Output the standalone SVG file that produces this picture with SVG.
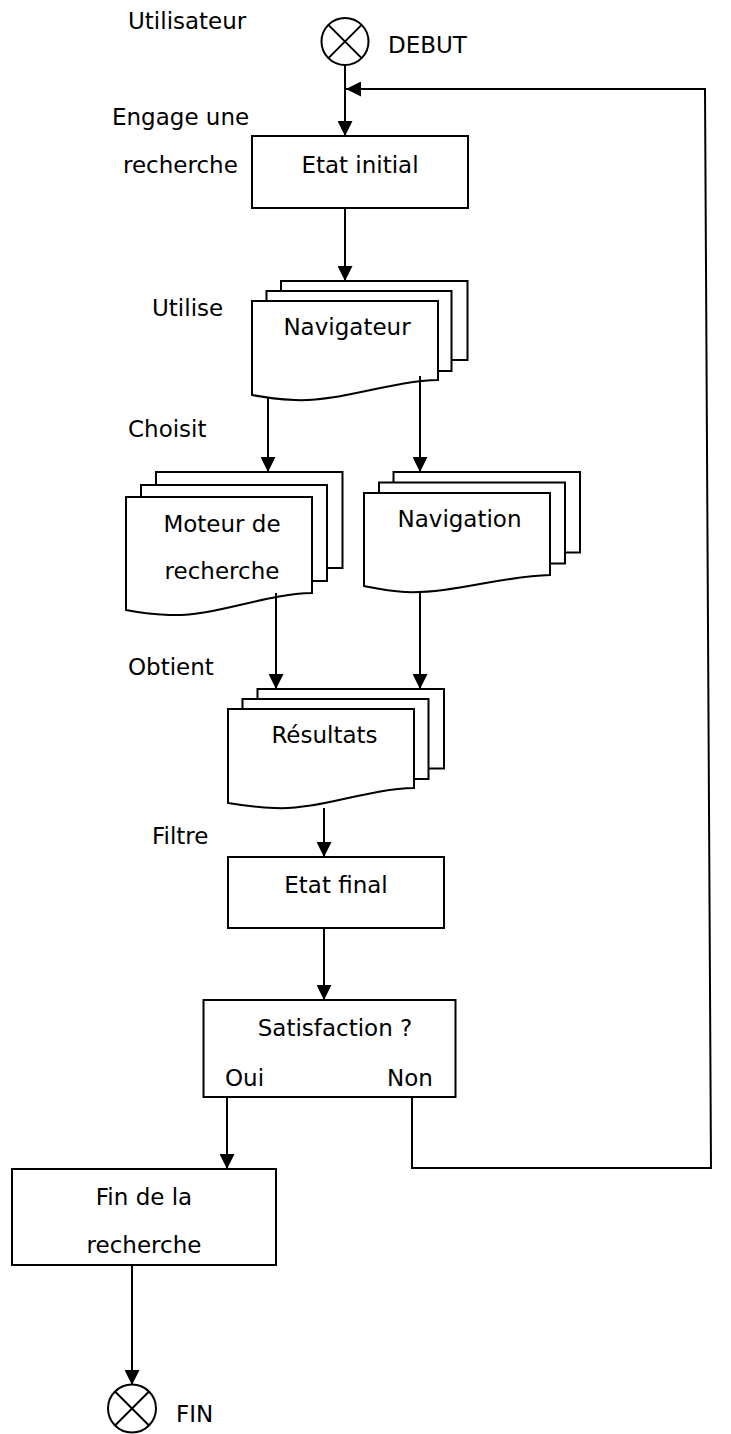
<svg xmlns="http://www.w3.org/2000/svg" width="731" height="1434" viewBox="0 0 731 1434">
<style>
text{font-family:"DejaVu Sans","Noto Sans",sans-serif;font-size:23px;fill:#000}
.c{text-anchor:middle}
.box{fill:#fff;stroke:#000;stroke-width:2}
.doc{fill:#fff;stroke:#000;stroke-width:2;stroke-linejoin:miter}
.ln{fill:none;stroke:#000;stroke-width:2}
</style>
<defs>
<marker id="ah" viewBox="0 0 15 15" refX="15" refY="7.5" markerWidth="15" markerHeight="15" markerUnits="userSpaceOnUse" orient="auto">
<path d="M0,0 L15,7.5 L0,15 Z" fill="#000"/>
</marker>
</defs>
<rect width="731" height="1434" fill="#fff"/>

<g id="labels">
<text x="128" y="29">Utilisateur</text>
<text x="112" y="125">Engage une</text>
<text x="123" y="173">recherche</text>
<text x="152" y="316">Utilise</text>
<text x="128" y="437">Choisit</text>
<text x="128" y="675">Obtient</text>
<text x="152" y="844">Filtre</text>
</g>

<g id="debut">
<circle cx="345" cy="41.5" r="23.5" class="box"/>
<path d="M328.4,24.9 L361.6,58.1 M361.6,24.9 L328.4,58.1" class="ln"/>
<text x="388" y="53">DEBUT</text>
</g>

<g id="etat-initial">
<rect x="252" y="136" width="216" height="72" class="box"/>
<text x="360" y="173" class="c">Etat initial</text>
</g>

<g id="navigateur">
<rect x="281" y="281" width="186.5" height="79" class="doc"/>
<rect x="266.5" y="291" width="185" height="80" class="doc"/>
<path d="M252,301 H438 V380 C390,381 340,402 295,400 C275,399 262,397 252,395 Z" class="doc"/>
<text x="347" y="335" class="c">Navigateur</text>
</g>

<g id="moteur">
<rect x="156" y="472" width="186.5" height="96" class="doc"/>
<rect x="141" y="485" width="186" height="96" class="doc"/>
<path d="M126,497 H312 V593 C264,594 214,617 169,615 C149,614 136,612 126,610 Z" class="doc"/>
<text x="222" y="532" class="c">Moteur de</text>
<text x="222" y="579" class="c">recherche</text>
</g>

<g id="navigation">
<rect x="393.5" y="472" width="186.5" height="80.5" class="doc"/>
<rect x="379" y="482.5" width="186" height="81" class="doc"/>
<path d="M364,493 H550 V575 C502,576 452,594 405,592 C385,591 374,588 364,586 Z" class="doc"/>
<text x="459.5" y="527" class="c">Navigation</text>
</g>

<g id="resultats">
<rect x="257.5" y="689" width="186.5" height="79.5" class="doc"/>
<rect x="242.5" y="699" width="186" height="80" class="doc"/>
<path d="M228,709 H414 V788 C366,789 320,810 275,808 C255,807 240,805 228,803 Z" class="doc"/>
<text x="324.5" y="743" class="c">Résultats</text>
</g>

<g id="etat-final">
<rect x="228" y="857" width="216" height="71" class="box"/>
<text x="336" y="893" class="c">Etat final</text>
</g>

<g id="satisfaction">
<rect x="203.5" y="1000" width="252" height="97" class="box"/>
<text x="335" y="1036" class="c">Satisfaction ?</text>
<text x="225" y="1086">Oui</text>
<text x="387" y="1086">Non</text>
</g>

<g id="fin-recherche">
<rect x="12" y="1169" width="264" height="96" class="box"/>
<text x="144" y="1205" class="c">Fin de la</text>
<text x="144" y="1253" class="c">recherche</text>
</g>

<g id="fin">
<circle cx="132" cy="1408.5" r="24" class="box"/>
<path d="M115,1391.5 L149,1425.5 M149,1391.5 L115,1425.5" class="ln"/>
<text x="176" y="1422">FIN</text>
</g>

<g id="connectors">
<line x1="345" y1="65" x2="345" y2="136" class="ln" marker-end="url(#ah)"/>
<polyline points="412,1097 412,1168 711,1168 705,89 346,89" class="ln" marker-end="url(#ah)"/>
<line x1="345" y1="208" x2="345" y2="281" class="ln" marker-end="url(#ah)"/>
<line x1="268" y1="398" x2="268" y2="472" class="ln" marker-end="url(#ah)"/>
<line x1="420" y1="376" x2="420" y2="472" class="ln" marker-end="url(#ah)"/>
<line x1="276" y1="593" x2="276" y2="689" class="ln" marker-end="url(#ah)"/>
<line x1="420" y1="591" x2="420" y2="689" class="ln" marker-end="url(#ah)"/>
<line x1="324" y1="808" x2="324" y2="857" class="ln" marker-end="url(#ah)"/>
<line x1="324" y1="928" x2="324" y2="1000" class="ln" marker-end="url(#ah)"/>
<line x1="227" y1="1097" x2="227" y2="1169" class="ln" marker-end="url(#ah)"/>
<line x1="132" y1="1265" x2="132" y2="1385" class="ln" marker-end="url(#ah)"/>
</g>
</svg>
